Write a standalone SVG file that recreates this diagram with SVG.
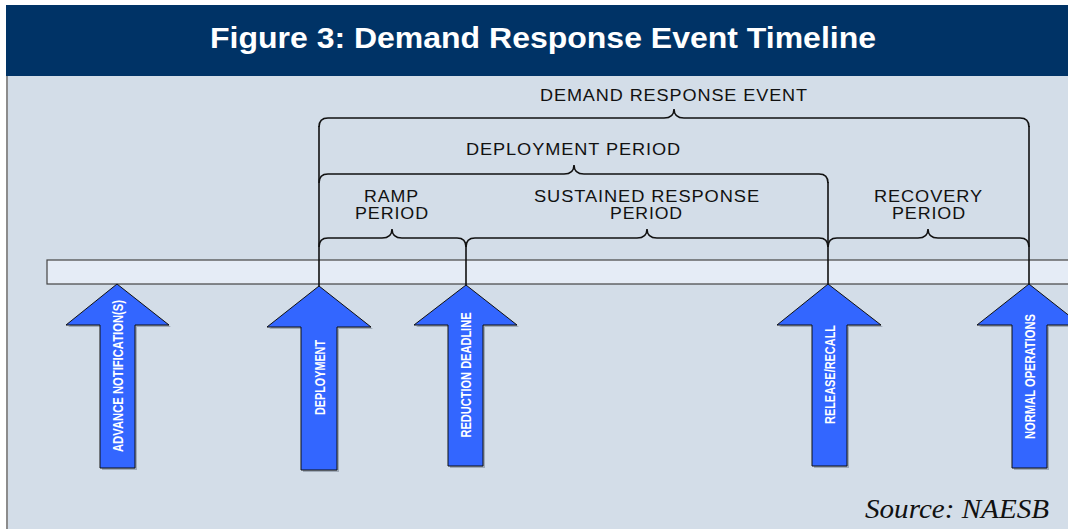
<svg xmlns="http://www.w3.org/2000/svg" width="1068" height="529" viewBox="0 0 1068 529">
<style>
.lbl{font-family:"Liberation Sans",Arial,sans-serif;font-size:16px;letter-spacing:0.8px;fill:#111;text-anchor:middle}
.arr{fill:#3366ff;stroke:#111;stroke-width:1}
.shd{fill:#7f8a99;opacity:0.6}
.atxt{font-family:"Liberation Sans",Arial,sans-serif;font-size:15px;font-weight:bold;fill:#fff;text-anchor:middle}
.br{fill:none;stroke:#111;stroke-width:1.6}
</style>
<rect x="0" y="0" width="1068" height="529" fill="#ffffff"/>
<rect x="6" y="76" width="1062" height="453" fill="#d3dde8"/>
<line x1="7" y1="76" x2="7" y2="529" stroke="#8c8c8c" stroke-width="2"/>
<rect x="6" y="5" width="1062" height="71" fill="#003366"/>
<text x="543" y="48" font-family="'Liberation Sans',Arial,sans-serif" font-size="30" font-weight="bold" fill="#fff" text-anchor="middle" textLength="666" lengthAdjust="spacingAndGlyphs">Figure 3: Demand Response Event Timeline</text>

<g id="timeline">
<rect x="47" y="260" width="1030" height="24" fill="#e5ecf6" stroke="#444" stroke-width="1.2"/>
</g>

<g id="connectors">
<path class="br" d="M319,127 Q319,118 328,118 L664,118 C670,118 674,116 674,109 C674,116 678,118 684,118 L1020,118 Q1029,118 1029,127"/>
<path class="br" d="M319,183 Q319,174 328,174 L564,174 C570,174 574,172 574,165 C574,172 578,174 584,174 L819,174 Q828,174 828,183"/>
<path class="br" d="M319,247 Q319,238 328,238 L382,238 C388,238 392,236 392,229 C392,236 396,238 402,238 L457,238 Q466,238 466,247"/>
<path class="br" d="M466,247 Q466,238 475,238 L637,238 C643,238 647,236 647,229 C647,236 651,238 657,238 L819,238 Q828,238 828,247"/>
<path class="br" d="M828,247 Q828,238 837,238 L918,238 C924,238 928,236 928,229 C928,236 932,238 938,238 L1020,238 Q1029,238 1029,247"/>
<line class="br" x1="319" y1="126" x2="319" y2="287"/>
<line class="br" x1="466" y1="246" x2="466" y2="286"/>
<line class="br" x1="828" y1="182" x2="828" y2="285"/>
<line class="br" x1="1029" y1="126" x2="1029" y2="285"/>
</g>

<g id="labels">
<text class="lbl" x="674" y="101" textLength="268" lengthAdjust="spacingAndGlyphs">DEMAND RESPONSE EVENT</text>
<text class="lbl" x="573.5" y="155" textLength="215" lengthAdjust="spacingAndGlyphs">DEPLOYMENT PERIOD</text>
<text class="lbl" x="391.5" y="201.5" textLength="55" lengthAdjust="spacingAndGlyphs">RAMP</text>
<text class="lbl" x="392" y="219" textLength="74" lengthAdjust="spacingAndGlyphs">PERIOD</text>
<text class="lbl" x="647" y="201.5" textLength="226" lengthAdjust="spacingAndGlyphs">SUSTAINED RESPONSE</text>
<text class="lbl" x="646.5" y="219" textLength="73" lengthAdjust="spacingAndGlyphs">PERIOD</text>
<text class="lbl" x="928.5" y="201.5" textLength="109" lengthAdjust="spacingAndGlyphs">RECOVERY</text>
<text class="lbl" x="929" y="219" textLength="74" lengthAdjust="spacingAndGlyphs">PERIOD</text>
</g>

<g id="advance-notification">
<polygon class="shd" points="119,286 171,327 137,327 137,470 102,470 102,327 68,327"/>
<polygon class="arr" points="117,284 169,325 135,325 135,468 100,468 100,325 66,325"/>
<text class="atxt" transform="translate(123,376) rotate(-90)" textLength="152" lengthAdjust="spacingAndGlyphs">ADVANCE NOTIFICATION(S)</text>
</g>
<g id="deployment">
<polygon class="shd" points="321,288 373,329 339,329 339,472 303,472 303,329 269,329"/>
<polygon class="arr" points="319,286 371,327 337,327 337,470 301,470 301,327 267,327"/>
<text class="atxt" transform="translate(324.5,377.5) rotate(-90)" textLength="75" lengthAdjust="spacingAndGlyphs">DEPLOYMENT</text>
</g>
<g id="reduction-deadline">
<polygon class="shd" points="468,287 519,327 485,327 485,468 450,468 450,327 416,327"/>
<polygon class="arr" points="466,285 517,325 483,325 483,466 448,466 448,325 414,325"/>
<text class="atxt" transform="translate(471,375) rotate(-90)" textLength="125" lengthAdjust="spacingAndGlyphs">REDUCTION DEADLINE</text>
</g>
<g id="release-recall">
<polygon class="shd" points="830,286 883,327 849,327 849,468 814,468 814,327 779,327"/>
<polygon class="arr" points="828,284 881,325 847,325 847,466 812,466 812,325 777,325"/>
<text class="atxt" transform="translate(835,374.5) rotate(-90)" textLength="99" lengthAdjust="spacingAndGlyphs">RELEASE/RECALL</text>
</g>
<g id="normal-operations">
<polygon class="shd" points="1031,286 1083,327 1049,327 1049,470 1014,470 1014,327 979,327"/>
<polygon class="arr" points="1029,284 1081,325 1047,325 1047,468 1012,468 1012,325 977,325"/>
<text class="atxt" transform="translate(1035,376.5) rotate(-90)" textLength="125" lengthAdjust="spacingAndGlyphs">NORMAL OPERATIONS</text>
</g>

<text x="1049" y="518" font-family="'Liberation Serif','Times New Roman',serif" font-size="27" font-style="italic" fill="#111" text-anchor="end" textLength="184" lengthAdjust="spacingAndGlyphs">Source: NAESB</text>
</svg>
